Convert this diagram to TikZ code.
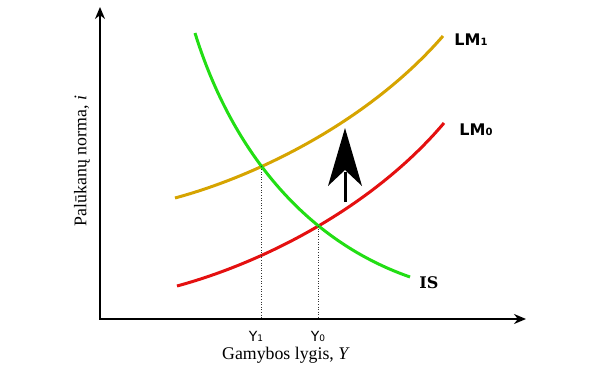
\documentclass[tikz,border=0pt]{standalone}
\usepackage{fontspec}
\setmainfont{Liberation Serif}
\newfontfamily\lblsans{DejaVu Sans}
\newfontfamily\lblserif{DejaVu Serif}
\usetikzlibrary{arrows.meta,intersections}
\definecolor{lmgold}{RGB}{214,164,0}
\definecolor{lmred}{RGB}{228,16,16}
\definecolor{isgreen}{RGB}{34,222,20}
\begin{document}
\begin{tikzpicture}[x=1pt,y=-1pt,
  axis/.style={line width=2pt,-{Stealth[length=12pt,width=10pt]}},
  curve/.style={line width=3pt},
  guide/.style={line width=0.6pt,dotted,black!80},
  lmlabel/.style={font=\lblsans\bfseries\fontsize{16}{18}\selectfont,inner sep=0pt},
  ylabel/.style={font=\lblsans\fontsize{14}{16}\selectfont,inner sep=0pt},
  axlabel/.style={font=\fontsize{17.8}{20}\selectfont,inner sep=0pt}]
\useasboundingbox (0,0) rectangle (600,370);
\coordinate (O) at (100,319);
\coordinate (ytop) at (100,7);
\coordinate (xend) at (526,319);
\draw[axis] (O) -- (ytop);
\draw[axis] ([xshift=-1pt]O) -- (xend);
% curves
\draw[curve,lmgold,name path=lmone] (175,198) .. controls (260,175) and (370,120) .. (443,36);
\draw[curve,lmred,name path=lmzero] (177,286) .. controls (262,263) and (372,208) .. (444,123);
\draw[curve,isgreen,name path=iscurve] (195,33) .. controls (225,130) and (290,235) .. (410,277);
\path[name intersections={of=lmone and iscurve,by={E1}}];
\path[name intersections={of=lmzero and iscurve,by={E0}}];
\coordinate (A1) at (O -| E1);
\coordinate (A0) at (O -| E0);
\draw[guide] (E1) -- (A1);
\draw[guide] (E0) -- (A0);
% shift arrow
\coordinate (sbase) at (345,202);
\coordinate (stip) at (345,128);
\draw[line width=3pt] (sbase) -- (345,172);
\fill (stip) -- (362,186) -- (345,170) -- (328,186) -- cycle;
% labels
\node[lmlabel] (l1) at (471,40) {LM\raisebox{0pt}{\fontsize{10}{10}\selectfont 1}};
\node[lmlabel] (l0) at (476,130) {LM\raisebox{0pt}{\fontsize{10}{10}\selectfont 0}};
\node[font=\lblserif\bfseries\fontsize{16}{18}\selectfont,inner sep=0pt] (lis) at (429,283) {IS};
\node[ylabel] (y1) at (256,336) {Y\raisebox{0pt}{\fontsize{9}{9}\selectfont 1}};
\node[ylabel] (y0) at (318,336) {Y\raisebox{0pt}{\fontsize{9}{9}\selectfont 0}};
\node[axlabel] (xl) at (286,355) {Gamybos lygis, \textit{Y}};
\node[axlabel,rotate=90] (yl) at (82,161) {Palūkanų norma, \textit{i}};
\end{tikzpicture}
\end{document}
